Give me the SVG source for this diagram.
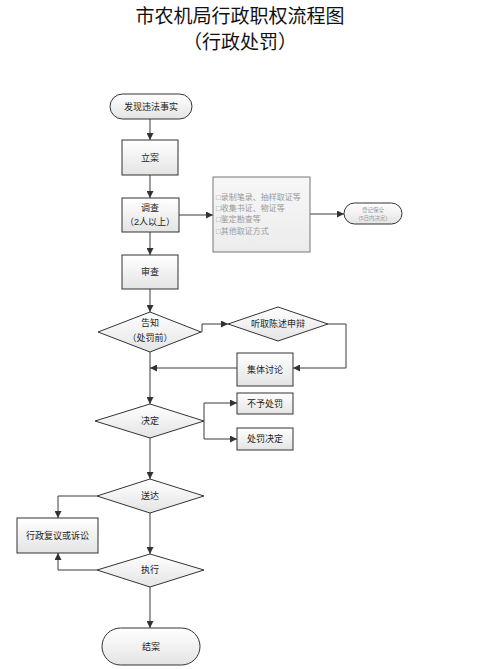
<svg xmlns="http://www.w3.org/2000/svg" width="480" height="669" viewBox="0 0 480 669">
<style>
.t{font-family:"Liberation Sans","Noto Sans CJK SC",sans-serif;font-size:9px;fill:#222;text-anchor:middle;dominant-baseline:central}
.title{font-family:"Liberation Serif","Noto Sans CJK SC",serif;font-size:19px;fill:#111;text-anchor:middle}
.n{fill:url(#g);stroke:#333;stroke-width:1}
.c{fill:none;stroke:#3a3a3a;stroke-width:1}
.s{font-family:"Liberation Sans","Noto Sans CJK SC",sans-serif;font-size:8px;fill:#9a9a9a}
.xs{font-family:"Liberation Sans","Noto Sans CJK SC",sans-serif;font-size:5.5px;fill:#999;text-anchor:middle;dominant-baseline:central}
</style>
<defs>
<linearGradient id="g" x1="0" y1="0" x2="0" y2="1">
<stop offset="0" stop-color="#ffffff"/>
<stop offset="1" stop-color="#e4e4e4"/>
</linearGradient>
<linearGradient id="g2" x1="0" y1="0" x2="0" y2="1">
<stop offset="0" stop-color="#f7f7f7"/>
<stop offset="1" stop-color="#ececec"/>
</linearGradient>
<marker id="a" viewBox="0 0 10 10" refX="10" refY="5" markerWidth="7" markerHeight="7" orient="auto" markerUnits="userSpaceOnUse">
<path d="M0,0 L10,5 L0,10 z" fill="#333"/>
</marker>
</defs>
<rect width="480" height="669" fill="#fff"/>
<text class="title" x="240" y="23">市农机局行政职权流程图</text>
<text class="title" x="240" y="49">（行政处罚）</text>

<g id="connectors">
<path class="c" d="M150,119 V140" marker-end="url(#a)"/>
<path class="c" d="M150,175 V198" marker-end="url(#a)"/>
<path class="c" d="M179,215 H213" marker-end="url(#a)"/>
<path class="c" d="M310,214 H344" marker-end="url(#a)"/>
<path class="c" d="M150,232 V255" marker-end="url(#a)"/>
<path class="c" d="M150,289 V312" marker-end="url(#a)"/>
<path class="c" d="M201,332 H202 V324 H228" marker-end="url(#a)"/>
<path class="c" d="M328,324 H346 V368 H293" marker-end="url(#a)"/>
<path class="c" d="M237,368 H150" marker-end="url(#a)"/>
<path class="c" d="M150,352 V404" marker-end="url(#a)"/>
<path class="c" d="M204,421 V403 H237" marker-end="url(#a)"/>
<path class="c" d="M204,421 V439 H237" marker-end="url(#a)"/>
<path class="c" d="M150,438 V479" marker-end="url(#a)"/>
<path class="c" d="M97,496 H58 V518" marker-end="url(#a)"/>
<path class="c" d="M150,513 V554" marker-end="url(#a)"/>
<path class="c" d="M97,570 H58 V553" marker-end="url(#a)"/>
<path class="c" d="M150,587 V628" marker-end="url(#a)"/>
</g>

<g id="start">
<rect class="n" x="110" y="94" width="82" height="25" rx="12.5"/>
<text class="t" x="151" y="106.5">发现违法事实</text>
</g>
<g id="lian">
<rect class="n" x="122" y="140" width="56" height="35"/>
<text class="t" x="150" y="157.5">立案</text>
</g>
<g id="diaocha">
<rect class="n" x="122" y="198" width="57" height="34"/>
<text class="t" x="150" y="208">调查</text>
<text class="t" x="150" y="222">（2人以上）</text>
</g>
<g id="evidence">
<rect x="213" y="177" width="97" height="75" fill="url(#g2)" stroke="#777" stroke-width="1"/>
<text class="s" x="216" y="200">□录制笔录、抽样取证等</text>
<text class="s" x="216" y="211">□收集书证、物证等</text>
<text class="s" x="216" y="222">□鉴定勘查等</text>
<text class="s" x="216" y="234">□其他取证方式</text>
</g>
<g id="baoquan">
<rect class="n" x="344" y="203" width="58" height="21" rx="10.5" stroke="#555"/>
<text class="xs" x="373" y="209.5">登记保全</text>
<text class="xs" x="373" y="217.5">(5日内决定)</text>
</g>
<g id="shencha">
<rect class="n" x="122" y="255" width="56" height="34"/>
<text class="t" x="150" y="272">审查</text>
</g>
<g id="gaozhi">
<polygon class="n" points="150,312 201,332 150,352 98,332"/>
<text class="t" x="150" y="323">告知</text>
<text class="t" x="150" y="338">（处罚前）</text>
</g>
<g id="tingqu">
<polygon class="n" points="278,307 328,324 278,341 228,324"/>
<text class="t" x="278" y="324">听取陈述申辩</text>
</g>
<g id="jiti">
<rect class="n" x="237" y="353" width="56" height="33"/>
<text class="t" x="265" y="369.5">集体讨论</text>
</g>
<g id="jueding">
<polygon class="n" points="150,404 204,421 150,438 95,421"/>
<text class="t" x="150" y="421">决定</text>
</g>
<g id="buyu">
<rect class="n" x="237" y="393" width="56" height="21"/>
<text class="t" x="265" y="403.5">不予处罚</text>
</g>
<g id="chufa">
<rect class="n" x="237" y="428" width="56" height="22"/>
<text class="t" x="265" y="439">处罚决定</text>
</g>
<g id="songda">
<polygon class="n" points="150,479 204,496 150,513 97,496"/>
<text class="t" x="150" y="496">送达</text>
</g>
<g id="fuyi">
<rect class="n" x="17" y="518" width="81" height="35"/>
<text class="t" x="57.5" y="535.5">行政复议或诉讼</text>
</g>
<g id="zhixing">
<polygon class="n" points="150,554 204,570 150,587 97,570"/>
<text class="t" x="150" y="570">执行</text>
</g>
<g id="end">
<rect class="n" x="102" y="628" width="98" height="37" rx="18.5"/>
<text class="t" x="151" y="646.5">结案</text>
</g>
</svg>
